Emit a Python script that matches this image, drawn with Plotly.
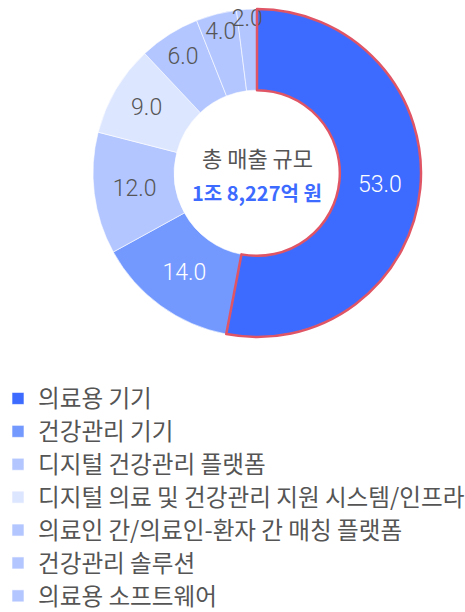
import plotly.graph_objects as go

categories = [
    "의료용 기기",
    "건강관리 기기",
    "디지털 건강관리 플랫폼",
    "디지털 의료 및 건강관리 지원 시스템/인프라",
    "의료인 간/의료인-환자 간 매칭 플랫폼",
    "건강관리 솔루션",
    "의료용 소프트웨어",
]
shares = [53.0, 14.0, 12.0, 9.0, 6.0, 4.0, 2.0]
center_title = "총 매출 규모"
center_value = "1조 8,227억 원"

colors = ["#3d6bff", "#7399ff", "#b3c6ff", "#dde6ff", "#b3c6ff", "#b3c6ff", "#b3c6ff"]
text_colors = ["#ffffff", "#ffffff", "#555555", "#555555", "#555555", "#555555", "#555555"]

W, H = 465, 612
cx, cy, R = 257, 173, 164
dom_x = [(cx - R) / W, (cx + R) / W]
dom_y = [1 - (cy + R) / H, 1 - (cy - R) / H]

legend_labels = [f"<span style='font-size:23.6px'>{c}</span>" for c in categories]

fig = go.Figure()
fig.add_trace(go.Pie(
    labels=legend_labels,
    values=shares,
    sort=False,
    direction="clockwise",
    rotation=0,
    hole=0.505,
    domain=dict(x=dom_x, y=dom_y),
    marker=dict(colors=colors, line=dict(color="#ffffff", width=0.6)),
    texttemplate="%{value:.1f}",
    textposition="inside",
    insidetextorientation="horizontal",
    insidetextfont=dict(family="Roboto", size=23, color=text_colors, weight=300),
    hoverinfo="skip",
    showlegend=True,
))
# red outline for the largest slice
fig.add_trace(go.Pie(
    labels=legend_labels,
    values=shares,
    sort=False,
    direction="clockwise",
    rotation=0,
    hole=0.505,
    domain=dict(x=dom_x, y=dom_y),
    marker=dict(colors=["rgba(0,0,0,0)"] * len(shares),
                line=dict(color=["#e05565"] + ["rgba(0,0,0,0)"] * (len(shares) - 1),
                          width=[2.5] + [0] * (len(shares) - 1))),
    textinfo="none",
    hoverinfo="skip",
    showlegend=False,
))

fig.add_annotation(x=cx / W, y=1 - 157 / H, xref="paper", yref="paper",
                   xanchor="center", yanchor="middle",
                   text=center_title, showarrow=False,
                   font=dict(family="Noto Sans CJK KR", size=22, color="#555555"))
fig.add_annotation(x=cx / W, y=1 - 192 / H, xref="paper", yref="paper",
                   xanchor="center", yanchor="middle",
                   text=f"<b>{center_value}</b>", showarrow=False,
                   font=dict(family="Noto Sans CJK KR", size=20, color="#3d6bff"))

fig.update_layout(
    width=W, height=H,
    margin=dict(l=0, r=0, t=0, b=0, autoexpand=False),
    paper_bgcolor="white",
    plot_bgcolor="white",
    uniformtext=dict(minsize=23, mode="show"),
    legend=dict(
        x=-2 / W, xanchor="left",
        y=1 - 377 / H, yanchor="top",
        orientation="v",
        font=dict(family="Noto Sans CJK KR", size=23.0, color="#555555"),
        bgcolor="rgba(0,0,0,0)",
        itemclick=False, itemdoubleclick=False,
    ),
)

fig.write_html("out.html", config={"displayModeBar": False},
               post_script="document.body.style.margin='0';")
